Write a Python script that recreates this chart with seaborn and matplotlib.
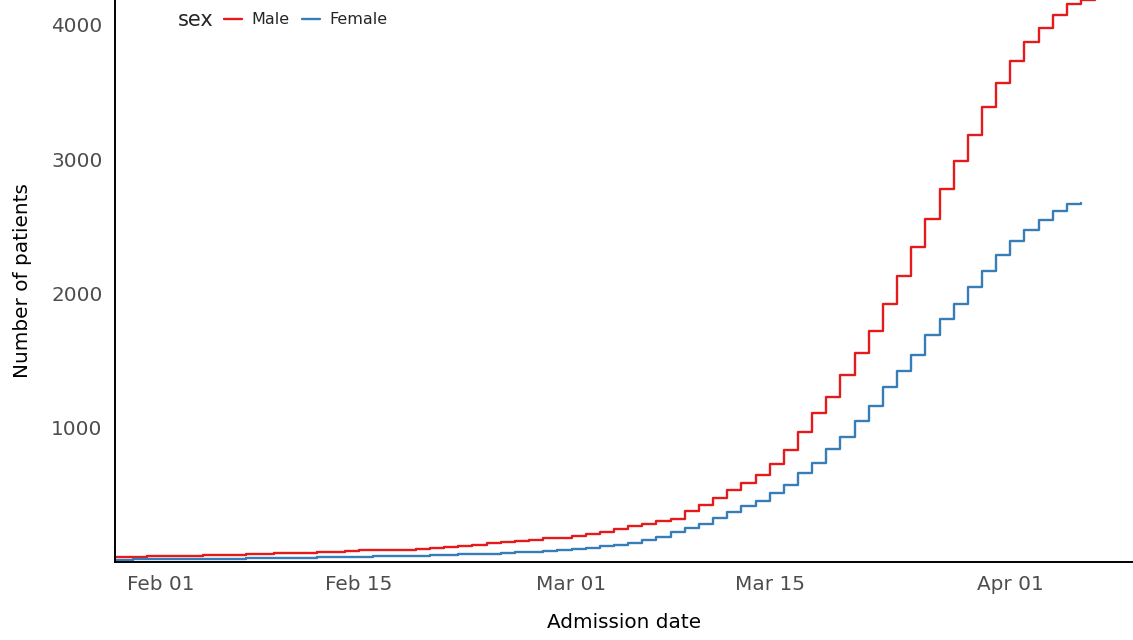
import pandas as pd
import matplotlib
matplotlib.use("Agg")
import matplotlib.pyplot as plt
import matplotlib.dates as mdates
import seaborn as sns

# =========================
# Data (cumulative admissions by sex)
# =========================
male_dates = pd.date_range("2020-01-28", "2020-04-07", freq="D")
female_dates = pd.date_range("2020-01-28", "2020-04-06", freq="D")

male_counts = [
    37, 38, 40, 42,                                      # Jan 28-31
    44, 46, 48, 50, 52, 55, 58, 61, 64, 67, 70, 74, 78, 82, 86,
    88, 90, 92, 94, 104, 114, 121, 129, 139, 147, 156, 166, 176, 181,  # Feb
    191, 206, 223, 248, 268, 285, 303, 322, 377, 422, 479, 538, 588, 648,
    727, 836, 970, 1107, 1231, 1394, 1558, 1720, 1918, 2131, 2347, 2558,
    2777, 2990, 3179, 3387, 3568,                        # Mar
    3735, 3873, 3978, 4072, 4154, 4184, 4200,            # Apr 01-07
]
female_counts = [
    18, 18, 19, 20,                                      # Jan 28-31
    21, 22, 23, 24, 25, 26, 27, 28, 29, 31, 32, 34, 36, 38, 40,
    42, 44, 46, 48, 50, 53, 56, 59, 63, 67, 72, 77, 82, 88,          # Feb
    95, 105, 117, 130, 145, 163, 185, 223, 251, 283, 325, 374, 415, 456,
    511, 571, 660, 735, 844, 933, 1047, 1161, 1300, 1424, 1543, 1690,
    1807, 1918, 2050, 2166, 2288,                        # Mar
    2392, 2472, 2546, 2613, 2667, 2675,                  # Apr 01-06
]

sex_order = ["Male", "Female"]
sex_colors = {"Male": "#E41A1C", "Female": "#377EB8"}
x_ticks = pd.to_datetime(["2020-02-01", "2020-02-15", "2020-03-01", "2020-03-15", "2020-04-01"])
y_ticks = [1000, 2000, 3000, 4000]

df = pd.concat([
    pd.DataFrame({"date": male_dates, "count": male_counts, "sex": "Male"}),
    pd.DataFrame({"date": female_dates, "count": female_counts, "sex": "Female"}),
], ignore_index=True)

# =========================
# Plot
# =========================
sns.set_style("white")
plt.rcParams["font.family"] = ["DejaVu Sans"]
plt.rcParams["font.sans-serif"] = ["DejaVu Sans"]

fig = plt.figure(figsize=(11.33, 6.4), dpi=100)
ax = fig.add_axes([115 / 1133, 78 / 640, 1018 / 1133, 562 / 640])

sns.lineplot(data=df, x="date", y="count", hue="sex", hue_order=sex_order,
             palette=sex_colors, estimator=None, drawstyle="steps-post",
             linewidth=1.7, ax=ax)

ax.set_xlim(pd.Timestamp("2020-01-28 18:00"), pd.Timestamp("2020-04-09 16:00"))
ax.set_ylim(0, 4186)
ax.set_xticks(x_ticks)
ax.xaxis.set_major_formatter(mdates.DateFormatter("%b %d"))
ax.set_yticks(y_ticks)

ax.set_xlabel("Admission date", fontsize=14.4, color="black", labelpad=14)
ax.set_ylabel("Number of patients", fontsize=14.4, color="black", labelpad=14)

for side in ["top", "right"]:
    ax.spines[side].set_visible(False)
for side in ["left", "bottom"]:
    ax.spines[side].set_color("black")
    ax.spines[side].set_linewidth(1.4)
ax.tick_params(axis="both", length=5, width=1.1, color="#333333",
               labelcolor="#4D4D4D", labelsize=14.4, pad=4)

# legend: horizontal, title on the left
sns.move_legend(ax, "center left", bbox_to_anchor=(224 / 1133, 1 - 20 / 640),
                bbox_transform=fig.transFigure, ncol=2, title=None,
                frameon=False, fontsize=11.5, handlelength=1.12,
                handletextpad=0.62, columnspacing=0.75, borderpad=0,
                borderaxespad=0)
fig.text(178 / 1133, 1 - 20 / 640, "sex", fontsize=15, va="center", ha="left")

plt.savefig("out.png", dpi=100)
plt.close()
